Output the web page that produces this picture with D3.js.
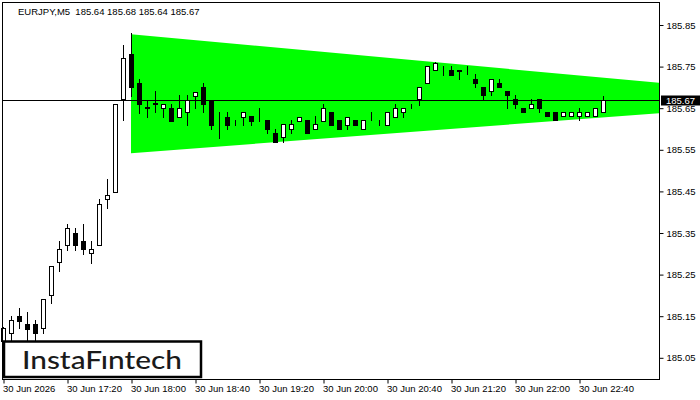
<!DOCTYPE html>
<html>
<head>
<meta charset="utf-8">
<script src="https://cdn.jsdelivr.net/npm/d3@7"></script>
<style>
  html, body { margin: 0; padding: 0; background: #fff; }
  svg { display: block; }
</style>
</head>
<body>
<svg id="chart" width="700" height="400"></svg>
<script>
// ---------- DATA ----------
const symbolTitle = "EURJPY,M5  185.64 185.68 185.64 185.67";
const opens  = [185.090,185.110,185.150,185.131,185.131,185.122,185.201,185.280,185.321,185.350,
                185.331,185.302,185.321,185.432,185.449,185.672,185.780,185.711,185.652,185.662,
                185.650,185.650,185.629,185.641,185.679,185.701,185.670,185.620,185.629,185.622,
                185.629,185.631,185.632,185.622,185.590,185.581,185.600,185.619,185.622,185.600,
                185.619,185.641,185.622,185.610,185.622,185.600,185.632,185.622,185.610,185.629,
                185.641,185.661,185.672,185.711,185.742,185.752,185.742,185.741,185.733,185.720,
                185.701,185.691,185.711,185.691,185.672,185.650,185.650,185.672,185.641,185.641,
                185.631,185.631,185.631,185.631,185.631,185.640];
const highs  = [185.125,185.150,185.170,185.160,185.141,185.191,185.271,185.331,185.372,185.362,
                185.372,185.331,185.432,185.480,185.660,185.802,185.831,185.720,185.670,185.691,
                185.660,185.660,185.682,185.682,185.689,185.711,185.670,185.641,185.641,185.622,
                185.641,185.631,185.650,185.622,185.600,185.612,185.622,185.629,185.622,185.631,
                185.660,185.641,185.622,185.629,185.622,185.622,185.641,185.622,185.641,185.660,
                185.650,185.661,185.701,185.751,185.761,185.752,185.751,185.741,185.751,185.732,
                185.701,185.720,185.720,185.691,185.682,185.650,185.672,185.672,185.641,185.641,
                185.641,185.641,185.650,185.641,185.650,185.680];
const lows   = [185.070,185.090,185.122,185.093,185.090,185.110,185.182,185.259,185.309,185.309,
                185.300,185.278,185.321,185.410,185.449,185.622,185.679,185.638,185.629,185.641,
                185.629,185.619,185.629,185.610,185.650,185.641,185.600,185.578,185.600,185.610,
                185.610,185.610,185.619,185.590,185.569,185.569,185.590,185.619,185.590,185.600,
                185.619,185.610,185.600,185.600,185.610,185.600,185.622,185.610,185.610,185.629,
                185.629,185.650,185.658,185.711,185.742,185.730,185.730,185.720,185.732,185.701,
                185.672,185.682,185.701,185.650,185.650,185.641,185.650,185.641,185.631,185.622,
                185.631,185.631,185.622,185.631,185.631,185.640];
const closes = [185.122,185.141,185.138,185.119,185.110,185.191,185.271,185.311,185.362,185.321,
                185.311,185.311,185.420,185.441,185.660,185.771,185.701,185.660,185.650,185.660,
                185.660,185.619,185.650,185.670,185.689,185.660,185.610,185.619,185.610,185.621,
                185.641,185.619,185.631,185.600,185.569,185.612,185.612,185.629,185.590,185.612,
                185.650,185.610,185.600,185.629,185.610,185.622,185.631,185.621,185.641,185.650,
                185.650,185.660,185.701,185.751,185.759,185.751,185.730,185.740,185.732,185.711,
                185.682,185.720,185.701,185.682,185.660,185.641,185.660,185.650,185.631,185.622,
                185.641,185.641,185.641,185.641,185.650,185.670];
const currentPrice = 185.67;
const priceTicks = [185.05,185.15,185.25,185.35,185.45,185.55,185.65,185.75,185.85];
const timeTickIndex = [0,8,16,24,32,40,48,56,64,72];
const timeTickLabels = ["30 Jun 2026","30 Jun 17:20","30 Jun 18:00","30 Jun 18:40","30 Jun 19:20",
                        "30 Jun 20:00","30 Jun 20:40","30 Jun 21:20","30 Jun 22:00","30 Jun 22:40"];
// symmetrical triangle (bar index, price)
const triIndex = [16, 82, 82, 16];
const triPrice = [185.828, 185.711, 185.638, 185.542];
const logoText = "InstaF\u0131ntech";

// ---------- LAYOUT ----------
const svg = d3.select("#chart");
const pL = 3, pR = 659, pT = 3, pB = 379;
const font = "'Liberation Sans', Arial, sans-serif";

const x = d3.scaleLinear().domain([0, 82]).range([3, 659]);
const y = d3.scaleLinear().domain([185.05, 185.85]).range([357.8, 25]);
const px = v => Math.round(v) + 0.5;

// triangle
svg.append("path")
  .attr("d", d3.line()(triIndex.map((t, i) => [x(t), y(triPrice[i])])) + "Z")
  .attr("fill", "#00ff00");

// candles
const bars = d3.range(opens.length);
const g = svg.append("g");
bars.forEach(i => {
  const cx = px(x(i));
  const o = opens[i], c = closes[i];
  g.append("line")
    .attr("x1", cx).attr("x2", cx)
    .attr("y1", Math.round(y(highs[i]))).attr("y2", Math.round(y(lows[i])) + 1)
    .attr("stroke", "#000").attr("stroke-width", 1);
  const yt = Math.round(y(Math.max(o, c))) + 0.5;
  const yb = Math.round(y(Math.min(o, c))) + 0.5;
  g.append("rect")
    .attr("x", cx - 2).attr("width", 4)
    .attr("y", yt).attr("height", Math.max(0, yb - yt))
    .attr("fill", c < o ? "#000" : "#fff")
    .attr("stroke", "#000").attr("stroke-width", 1);
});

// current price line
svg.append("line")
  .attr("x1", pL).attr("x2", pR)
  .attr("y1", px(y(currentPrice))).attr("y2", px(y(currentPrice)))
  .attr("stroke", "#000").attr("stroke-width", 1);

// frame
svg.append("rect")
  .attr("x", pL - 0.5).attr("y", pT - 0.5)
  .attr("width", pR - pL + 1).attr("height", pB - pT + 1)
  .attr("fill", "none").attr("stroke", "#000").attr("stroke-width", 1);

// title
svg.append("text")
  .attr("x", 18).attr("y", 15)
  .attr("font-family", font).attr("font-size", 9.5).attr("fill", "#000")
  .attr("xml:space", "preserve")
  .text(symbolTitle);

// right axis
const yAxis = d3.axisRight(y).tickValues(priceTicks).tickFormat(d3.format(".2f")).tickSize(4).tickPadding(3);
const ya = svg.append("g").attr("transform", `translate(${pR + 0.5},0)`).call(yAxis);
ya.select(".domain").remove();
ya.selectAll("line").attr("stroke", "#000");
ya.selectAll("text").attr("font-family", font).attr("font-size", 9.5).attr("fill", "#000");

// bottom axis
const xAxis = d3.axisBottom(x).tickValues(timeTickIndex)
  .tickFormat((d, i) => timeTickLabels[i]).tickSize(4).tickPadding(2);
const xa = svg.append("g").attr("transform", `translate(0.5,${pB + 0.5})`).call(xAxis);
xa.select(".domain").remove();
xa.selectAll("line").attr("stroke", "#000");
xa.selectAll("text").attr("font-family", font).attr("font-size", 9.5).attr("fill", "#000")
  .attr("text-anchor", "start").attr("dx", -1);

// current price label
const cy = px(y(currentPrice));
svg.append("rect").attr("x", 661).attr("y", cy - 5).attr("width", 39).attr("height", 10).attr("fill", "#000");
svg.append("text").attr("x", 666).attr("y", cy + 3.5)
  .attr("font-family", font).attr("font-size", 9.5).attr("fill", "#fff")
  .text(d3.format(".2f")(currentPrice));

// logo
svg.append("rect").attr("x", 4).attr("y", 341.5).attr("width", 197).attr("height", 35.5)
  .attr("fill", "#fff").attr("stroke", "#000").attr("stroke-width", 2.5);
svg.append("text").attr("x", 22).attr("y", 368.5)
  .attr("font-family", "Lato, 'Open Sans', sans-serif").attr("font-size", 25).attr("font-weight", 500)
  .attr("fill", "#1a1a1a").attr("textLength", 160).attr("lengthAdjust", "spacingAndGlyphs")
  .text(logoText);
</script>
</body>
</html>
